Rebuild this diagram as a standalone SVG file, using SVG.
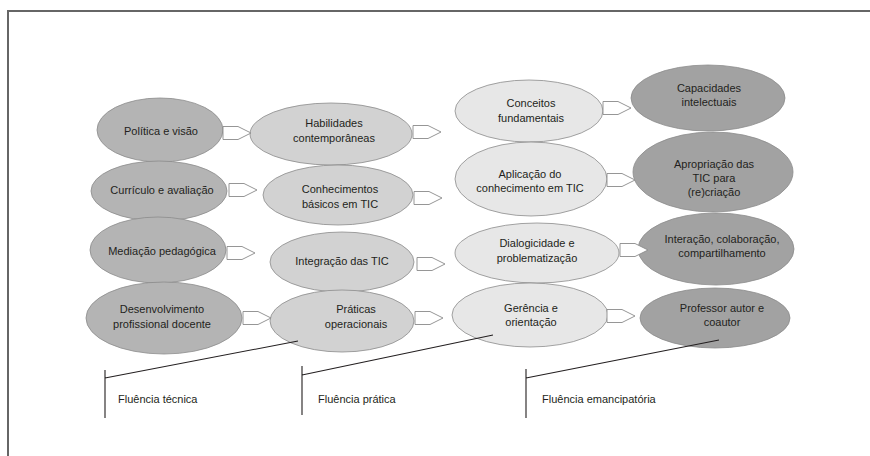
<svg xmlns="http://www.w3.org/2000/svg" width="870" height="456" viewBox="0 0 870 456">
<defs>
<style>
text{font-family:"Liberation Sans",Arial,sans-serif;font-size:11px;fill:#231f20;text-anchor:middle}
.c1{fill:#b4b4b4;stroke:#8c8c8c;stroke-width:0.8}
.c2{fill:#d2d2d2;stroke:#8c8c8c;stroke-width:0.8}
.c3{fill:#e7e7e7;stroke:#8c8c8c;stroke-width:0.8}
.c4{fill:#a2a2a2;stroke:#8c8c8c;stroke-width:0.8}
.arr{fill:#ffffff;stroke:#8a8a8a;stroke-width:0.9}
.ln{stroke:#231f20;stroke-width:1.1;fill:none}
.lab{text-anchor:start}
</style>
<path id="pent" d="M0,-6.5 H15 L28,0 L15,6.5 H0 Z"/>
</defs>
<rect x="8" y="11" width="870" height="460" fill="none" stroke="#666" stroke-width="2"/>

<g id="col1">
<g id="n-politica"><ellipse class="c1" cx="160" cy="130" rx="63" ry="32"/><text x="161" y="135">Política e visão</text></g>
<g id="n-curriculo"><ellipse class="c1" cx="159" cy="191" rx="68" ry="30"/><text x="162" y="194">Currículo e avaliação</text></g>
<g id="n-mediacao"><ellipse class="c1" cx="158" cy="250" rx="68" ry="33"/><text x="162" y="255">Mediação pedagógica</text></g>
<g id="n-desenvolvimento"><ellipse class="c1" cx="164" cy="318" rx="78" ry="36"/><text x="162" y="313">Desenvolvimento</text><text x="162" y="328">profissional docente</text></g>
</g>
<g id="col2">
<g id="n-habilidades"><ellipse class="c2" cx="331" cy="134" rx="81" ry="31"/><text x="334" y="127">Habilidades</text><text x="334" y="142">contemporâneas</text></g>
<g id="n-conhecimentos"><ellipse class="c2" cx="338" cy="195" rx="75" ry="30"/><text x="340" y="193">Conhecimentos</text><text x="340" y="208">básicos em TIC</text></g>
<g id="n-integracao"><ellipse class="c2" cx="342" cy="262" rx="72" ry="30"/><text x="342" y="265">Integração das TIC</text></g>
<g id="n-praticas"><ellipse class="c2" cx="342" cy="321" rx="72" ry="31"/><text x="356" y="313">Práticas</text><text x="356" y="328">operacionais</text></g>
</g>
<g id="col3">
<g id="n-conceitos"><ellipse class="c3" cx="529" cy="111" rx="74" ry="31"/><text x="531" y="107">Conceitos</text><text x="531" y="122">fundamentais</text></g>
<g id="n-aplicacao"><ellipse class="c3" cx="531" cy="179" rx="76" ry="37"/><text x="530" y="178">Aplicação do</text><text x="530" y="192">conhecimento em TIC</text></g>
<g id="n-dialogicidade"><ellipse class="c3" cx="537" cy="253" rx="82" ry="30"/><text x="537" y="247">Dialogicidade e</text><text x="537" y="262">problematização</text></g>
<g id="n-gerencia"><ellipse class="c3" cx="530" cy="315" rx="78" ry="32"/><text x="531" y="312">Gerência e</text><text x="531" y="326">orientação</text></g>
</g>
<g id="col4">
<g id="n-capacidades"><ellipse class="c4" cx="708" cy="98" rx="77" ry="33"/><text x="709" y="92">Capacidades</text><text x="709" y="106">intelectuais</text></g>
<g id="n-apropriacao"><ellipse class="c4" cx="713" cy="172" rx="80" ry="40"/><text x="714" y="168">Apropriação das</text><text x="714" y="182">TIC para</text><text x="714" y="196">(re)criação</text></g>
<g id="n-interacao"><ellipse class="c4" cx="716" cy="249" rx="78" ry="36"/><text x="722" y="243">Interação, colaboração,</text><text x="722" y="257">compartilhamento</text></g>
<g id="n-professor"><ellipse class="c4" cx="715" cy="318" rx="75" ry="30"/><text x="722" y="312">Professor autor e</text><text x="722" y="326">coautor</text></g>
</g>

<g id="connectors">
<use href="#pent" class="arr" x="223" y="133"/>
<use href="#pent" class="arr" x="229" y="190"/>
<use href="#pent" class="arr" x="227" y="253"/>
<use href="#pent" class="arr" x="243" y="318"/>
<use href="#pent" class="arr" x="413" y="132"/>
<use href="#pent" class="arr" x="414" y="198"/>
<use href="#pent" class="arr" x="417" y="264"/>
<use href="#pent" class="arr" x="415" y="318"/>
<use href="#pent" class="arr" x="603" y="108"/>
<use href="#pent" class="arr" x="607" y="180"/>
<use href="#pent" class="arr" x="620" y="250"/>
<use href="#pent" class="arr" x="607" y="316"/>
<path class="ln" d="M105,370 V418 M105,378 L298,341"/>
<path class="ln" d="M302,366 V415 M302,375 L493,335"/>
<path class="ln" d="M526,369 V418 M526,378 L719,340"/>
</g>

<g id="labels">
<text class="lab" x="118" y="403">Fluência técnica</text>
<text class="lab" x="318" y="403">Fluência prática</text>
<text class="lab" x="542" y="403">Fluência emancipatória</text>
</g>
</svg>
